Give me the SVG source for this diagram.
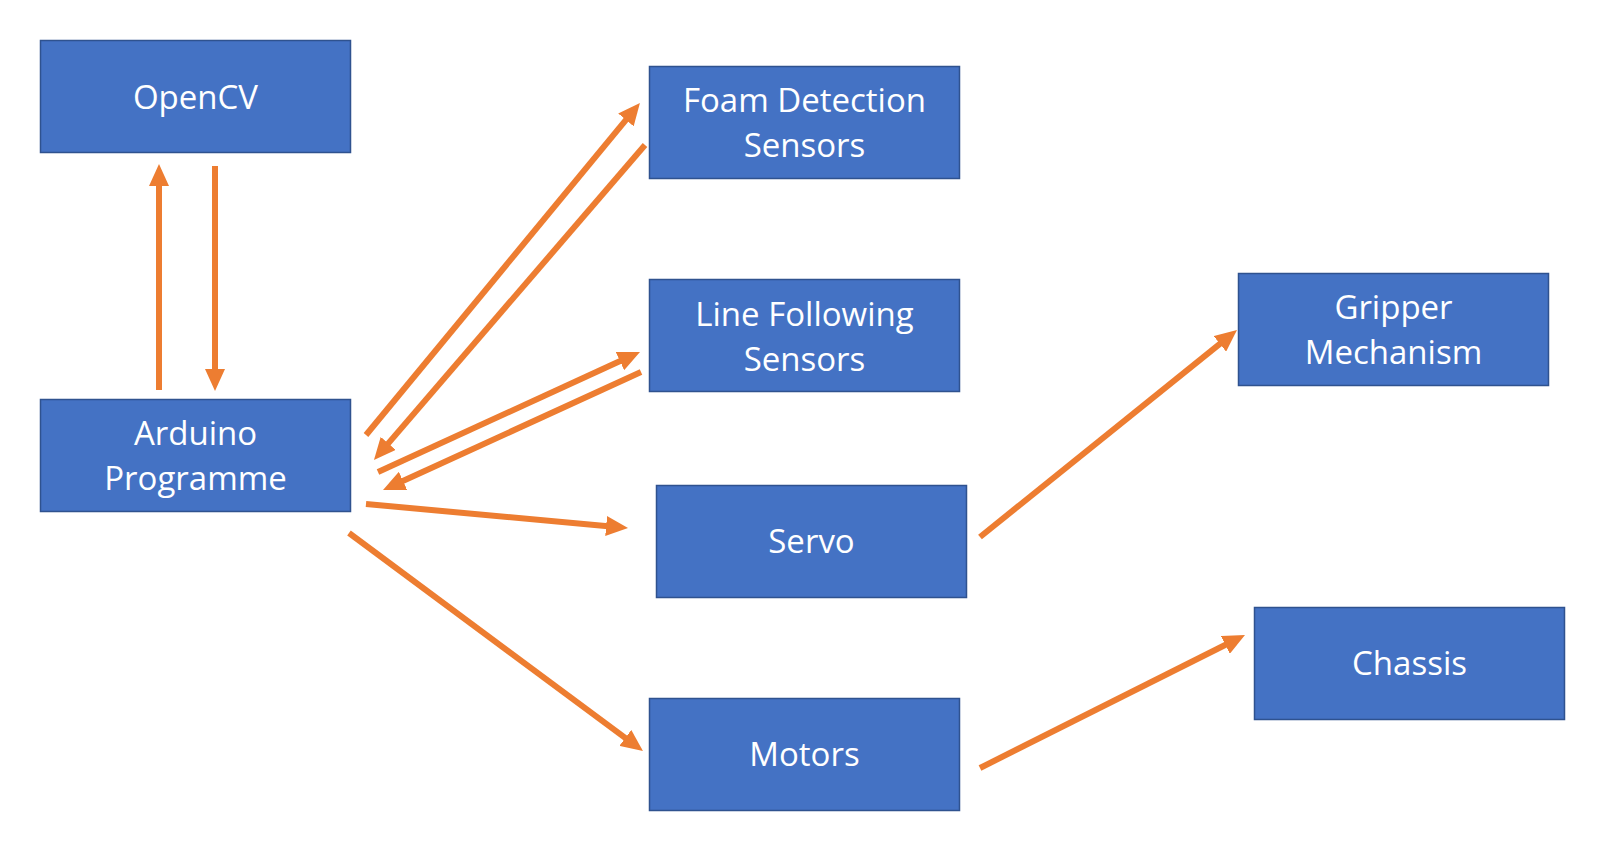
<svg xmlns="http://www.w3.org/2000/svg" width="1600" height="856" viewBox="0 0 1600 856">
<style>
.box{fill:#4472C4;stroke:#2F528F;stroke-width:1.5}
.lbl{font-family:"Open Sans","Liberation Sans",sans-serif;font-size:33px;fill:#FFFFFF;text-anchor:middle}
.arr{stroke:#ED7D31;stroke-width:6;fill:none;marker-end:url(#ah)}
</style>
<defs>
<marker id="ah" markerUnits="userSpaceOnUse" markerWidth="22" markerHeight="20" viewBox="0 0 22 20" refX="2" refY="10" orient="auto">
<path d="M0,0 L22,10 L0,20 z" fill="#ED7D31"/>
</marker>
</defs>
<rect width="1600" height="856" fill="#FFFFFF"/>
<g id="connectors">
<line class="arr" x1="159" y1="390" x2="159" y2="184"/>
<line class="arr" x1="215" y1="166" x2="215" y2="371"/>
<line class="arr" x1="366" y1="435" x2="627.2" y2="118.4"/>
<line class="arr" x1="645" y1="145" x2="387" y2="444.9"/>
<line class="arr" x1="378" y1="472" x2="621.8" y2="360.3"/>
<line class="arr" x1="641" y1="372" x2="401.2" y2="481.7"/>
<line class="arr" x1="366" y1="504" x2="608.1" y2="526.2"/>
<line class="arr" x1="349" y1="533" x2="626.9" y2="739.1"/>
<line class="arr" x1="980" y1="537" x2="1221.4" y2="342.6"/>
<line class="arr" x1="980" y1="768" x2="1227.1" y2="644"/>
</g>
<g id="opencv">
<rect class="box" x="40.5" y="40.5" width="310" height="112"/>
<text class="lbl" x="195.5" y="109">OpenCV</text>
</g>
<g id="arduino">
<rect class="box" x="40.5" y="399.5" width="310" height="112"/>
<text class="lbl" x="195.5" y="445">Arduino</text>
<text class="lbl" x="195.5" y="490">Programme</text>
</g>
<g id="foam">
<rect class="box" x="649.5" y="66.5" width="310" height="112"/>
<text class="lbl" x="804.5" y="112">Foam Detection</text>
<text class="lbl" x="804.5" y="157">Sensors</text>
</g>
<g id="line-following">
<rect class="box" x="649.5" y="279.5" width="310" height="112"/>
<text class="lbl" x="804.5" y="326">Line Following</text>
<text class="lbl" x="804.5" y="371">Sensors</text>
</g>
<g id="servo">
<rect class="box" x="656.5" y="485.5" width="310" height="112"/>
<text class="lbl" x="811.5" y="553">Servo</text>
</g>
<g id="motors">
<rect class="box" x="649.5" y="698.5" width="310" height="112"/>
<text class="lbl" x="804.5" y="766">Motors</text>
</g>
<g id="gripper">
<rect class="box" x="1238.5" y="273.5" width="310" height="112"/>
<text class="lbl" x="1393.5" y="319">Gripper</text>
<text class="lbl" x="1393.5" y="364">Mechanism</text>
</g>
<g id="chassis">
<rect class="box" x="1254.5" y="607.5" width="310" height="112"/>
<text class="lbl" x="1409.5" y="675">Chassis</text>
</g>
</svg>
